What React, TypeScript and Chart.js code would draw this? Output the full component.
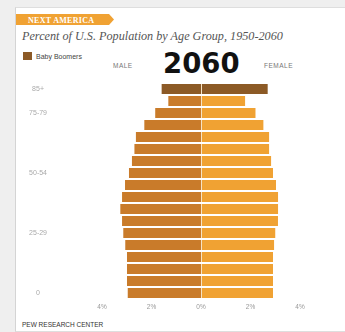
import React, { useEffect, useRef } from "react";
import { Chart, registerables } from "chart.js";

Chart.register(...registerables);

const ageGroups = [
  "85+", "80-84", "75-79", "70-74", "65-69", "60-64", "55-59", "50-54", "45-49",
  "40-44", "35-39", "30-34", "25-29", "20-24", "15-19", "10-14", "5-9", "0-4",
];
const yTickLabels = [
  "85+", "", "75-79", "", "", "", "", "50-54", "", "", "", "", "25-29", "", "", "", "", "0",
];
const malePct = [1.59, 1.32, 1.85, 2.29, 2.63, 2.69, 2.79, 2.91, 3.07, 3.19, 3.26, 3.19, 3.14, 3.06, 2.99, 2.99, 2.99, 2.96];
const femalePct = [2.7, 1.79, 2.21, 2.53, 2.76, 2.76, 2.84, 2.91, 3.03, 3.12, 3.12, 3.11, 3.01, 2.96, 2.91, 2.91, 2.91, 2.91];
const boomerGroups = ["85+"];
const xTickValues = [-4, -2, 0, 2, 4];

const BOOMER = "#8c5a26";
const MALE = "#c97b2a";
const FEMALE = "#f0a233";

export default function App() {
  const ref = useRef<HTMLCanvasElement | null>(null);

  useEffect(() => {
    if (!ref.current) return;
    const chart = new Chart(ref.current, {
      type: "bar",
      data: {
        labels: ageGroups,
        datasets: [
          {
            label: "Male",
            data: malePct.map((v) => -v),
            backgroundColor: ageGroups.map((g) => (boomerGroups.includes(g) ? BOOMER : MALE)),
            barPercentage: 0.84,
            categoryPercentage: 1,
            borderWidth: 0,
          },
          {
            label: "Female",
            data: femalePct,
            backgroundColor: ageGroups.map((g) => (boomerGroups.includes(g) ? BOOMER : FEMALE)),
            borderColor: "#f6e3c4",
            borderWidth: { left: 1, right: 0, top: 0, bottom: 0 },
            borderSkipped: false,
            barPercentage: 0.84,
            categoryPercentage: 1,
          },
        ],
      },
      options: {
        indexAxis: "y",
        animation: false,
        responsive: false,
        maintainAspectRatio: false,
        layout: { padding: { top: 83, right: 45, bottom: 19, left: 0 } },
        plugins: { legend: { display: false }, tooltip: { enabled: false } },
        scales: {
          x: {
            stacked: true,
            min: -4,
            max: 4,
            afterBuildTicks: (scale: any) => {
              scale.ticks = xTickValues.map((v) => ({ value: v }));
            },
            ticks: {
              callback: (v: any) => Math.abs(Number(v)) + "%",
              color: "#999",
              font: { size: 6.5, family: "Liberation Sans" },
              padding: 4,
              maxRotation: 0,
              autoSkip: false,
            },
            grid: { display: false, drawTicks: false },
            border: { display: false },
            afterFit: (s: any) => {
              s.height = 14;
              s.paddingLeft = 0;
              s.paddingRight = 0;
            },
          },
          y: {
            stacked: true,
            ticks: {
              callback: (_v: any, i: number) => yTickLabels[i],
              autoSkip: false,
              crossAlign: "center",
              padding: 55,
              color: "#aaa",
              font: { size: 7, family: "Liberation Sans" },
            },
            grid: { display: false, drawTicks: false },
            border: { display: false },
            afterFit: (s: any) => {
              s.width = 102;
              s.paddingTop = 0;
              s.paddingBottom = 0;
            },
          },
        },
      },
    });
    return () => chart.destroy();
  }, []);

  const abs = (o: any): React.CSSProperties => ({ position: "absolute", whiteSpace: "nowrap", lineHeight: 1, ...o });

  return (
    <div style={{ position: "absolute", left: 0, top: 0, width: 345, height: 332, background: "#efefef", overflow: "hidden" }}>
      <div
        style={{
          position: "absolute",
          left: 15,
          top: 7,
          width: 340,
          height: 323,
          background: "#fff",
          borderLeft: "1px solid #d4d4d4",
          borderTop: "1px solid #dedede",
          borderBottom: "1px solid #dedede",
        }}
      />
      <div
        style={{
          position: "absolute",
          left: 16,
          top: 14,
          width: 98,
          height: 11,
          background: "#f0a233",
          clipPath: "polygon(0 0, 93px 0, 98px 50%, 93px 100%, 0 100%)",
        }}
      />
      <div style={abs({ left: 28, top: 16.5, fontFamily: "Liberation Serif", fontWeight: 700, fontSize: 8, color: "#fff", letterSpacing: 0.3 })}>
        NEXT AMERICA
      </div>
      <div style={abs({ left: 22, top: 29.7, fontFamily: "Liberation Serif", fontStyle: "italic", fontSize: 12.2, color: "#555" })}>
        Percent of U.S. Population by Age Group, 1950-2060
      </div>
      <div style={{ position: "absolute", left: 23, top: 52, width: 9, height: 8, background: BOOMER }} />
      <div style={abs({ left: 36, top: 52.6, fontFamily: "Liberation Sans", fontSize: 7, color: "#444" })}>Baby Boomers</div>
      <div style={abs({ left: 113, top: 62.5, fontFamily: "Liberation Sans", fontSize: 6.5, color: "#777", letterSpacing: 0.5 })}>MALE</div>
      <div style={abs({ left: 264, top: 62.5, fontFamily: "Liberation Sans", fontSize: 6.5, color: "#777", letterSpacing: 0.5 })}>FEMALE</div>
      <div style={abs({ left: 163, top: 49.8, fontFamily: "DejaVu Sans", fontWeight: 700, fontSize: 27.5, color: "#111" })}>2060</div>
      <div style={abs({ left: 22, top: 321.5, fontFamily: "Liberation Sans", fontSize: 6.5, color: "#333" })}>PEW RESEARCH CENTER</div>
      <canvas ref={ref} width={345} height={332} style={{ position: "absolute", left: 0, top: 0, width: 345, height: 332 }} />
    </div>
  );
}
